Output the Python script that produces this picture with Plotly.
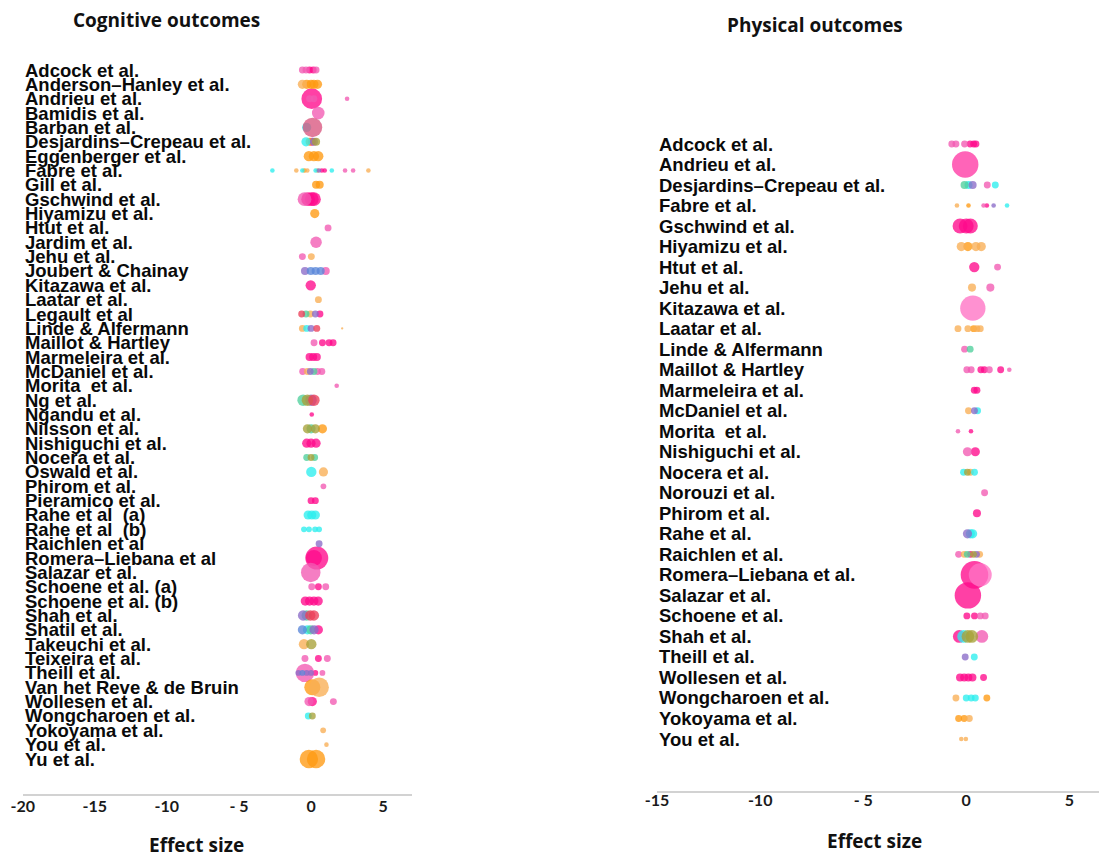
import plotly.graph_objects as go

# ---------------- data ----------------
cog_studies = [
    "Adcock et al.", "Anderson\u2013Hanley et al.", "Andrieu et al.", "Bamidis et al.", "Barban et al.",
    "Desjardins\u2013Crepeau et al.", "Eggenberger et al.", "Fabre et al.", "Gill et al.", "Gschwind et al.",
    "Hiyamizu et al.", "Htut et al.", "Jardim et al.", "Jehu et al.", "Joubert & Chainay",
    "Kitazawa et al.", "Laatar et al.", "Legault et al", "Linde & Alfermann", "Maillot & Hartley",
    "Marmeleira et al.", "McDaniel et al.", "Morita  et al.", "Ng et al.", "Ngandu et al.",
    "Nilsson et al.", "Nishiguchi et al.", "Nocera et al.", "Oswald et al.", "Phirom et al.",
    "Pieramico et al.", "Rahe et al  (a)", "Rahe et al  (b)", "Raichlen et al", "Romera\u2013Liebana et al",
    "Salazar et al.", "Schoene et al. (a)", "Schoene et al. (b)", "Shah et al.", "Shatil et al.",
    "Takeuchi et al.", "Teixeira et al.", "Theill et al.", "Van het Reve & de Bruin", "Wollesen et al.",
    "Wongcharoen et al.", "Yokoyama et al.", "You et al.", "Yu et al.",
]

cog_es = [
    [-0.6, -0.35, -0.1, 0.15, 0.35],
    [-0.6, -0.3, 0.0, 0.2, 0.45],
    [0.05, -0.1, 0.2, 2.5],
    [0.5],
    [-0.3, 0.1],
    [-0.35, -0.1, 0.05, 0.2, 0.35],
    [-0.15, 0.2, 0.5],
    [-2.68, -1.02, -0.6, -0.45, -0.26, 0.32, 0.45, 0.55, 0.75, 0.95, 1.44, 2.36, 2.92, 3.98],
    [0.35, 0.6],
    [-0.45, -0.2, 0.05, 0.2],
    [0.26],
    [1.18],
    [0.35],
    [-0.6, 0.02],
    [-0.42, -0.02, 0.32, 0.67, 1.02],
    [-0.02],
    [0.51],
    [-0.65, -0.35, -0.05, 0.3, 0.62],
    [-0.6, -0.3, 0.0, 0.4, 2.16],
    [0.21, 0.79, 1.25, 1.53],
    [-0.1, 0.15, 0.4],
    [-0.58, -0.25, -0.05, 0.2, 0.45, 0.75],
    [1.78],
    [-0.55, -0.25, 0.0, 0.2],
    [0.05],
    [-0.25, 0.0, 0.3, 0.79],
    [-0.3, 0.0, 0.35],
    [-0.3, 0.0, 0.25],
    [0.02, 0.86],
    [0.86],
    [0.0, 0.3],
    [-0.2, 0.05, 0.3],
    [-0.49, -0.14, 0.28, 0.56],
    [0.56],
    [0.2, 0.4],
    [-0.02],
    [0.05, 0.51, 1.02],
    [-0.4, -0.1, 0.2, 0.5],
    [-0.55, -0.3, -0.05, 0.2],
    [-0.6, -0.25, -0.02, 0.21, 0.51],
    [-0.49, 0.02],
    [-0.42, 0.51, 1.13],
    [-0.42, -0.88, -0.6, -0.3, 0.0, 0.3, 0.79],
    [0.09, 0.56],
    [-0.14, 0.09, 1.55],
    [-0.19, 0.09],
    [0.84],
    [1.07],
    [-0.15, 0.35],
]

cog_weight = [
    [6, 6, 6, 6, 6],
    [8, 8, 8, 8, 8],
    [18, 6, 6, 4],
    [11],
    [8, 17],
    [8, 7, 7, 7, 7],
    [9, 9, 9],
    [4, 4, 4, 4, 4, 4, 4, 4, 4, 4, 4, 4, 4, 4],
    [7, 7],
    [12, 12, 12, 12],
    [8],
    [6],
    [10],
    [6, 6],
    [7, 7, 7, 7, 7],
    [9],
    [6],
    [6, 6, 6, 6, 6],
    [6, 6, 6, 6, 2],
    [6, 6, 6, 6],
    [7, 7, 7],
    [6, 6, 6, 6, 6, 6],
    [4],
    [10, 10, 10, 10],
    [4],
    [8, 8, 8, 8],
    [8, 8, 8],
    [6, 6, 6],
    [9, 8],
    [5],
    [6, 6],
    [8, 8, 8],
    [5, 5, 5, 5],
    [6],
    [14, 20],
    [17],
    [6, 6, 6],
    [8, 8, 8, 8],
    [9, 9, 9, 9],
    [8, 8, 8, 8, 8],
    [9, 9],
    [6, 6, 6],
    [16, 5, 5, 5, 5, 5, 5],
    [14, 17],
    [8, 8, 6],
    [6, 6],
    [5],
    [4],
    [16, 16],
]

cog_group = [
    ["pink", "pink", "mag", "mag", "pink"],
    ["orgl", "org", "org", "org", "org"],
    ["mag", "pink", "pink", "pink"],
    ["pink"],
    ["cyan", "rose"],
    ["cyan", "org", "mag", "purp", "olive"],
    ["org", "org", "org"],
    ["cyan", "orgl", "cyan", "org", "orgl", "cyan", "orgl", "purp", "mag", "mag", "cyan", "pink", "pink", "orgl"],
    ["org", "org"],
    ["pink", "mag", "mag", "mag"],
    ["org"],
    ["pink"],
    ["pink"],
    ["pink", "orgl"],
    ["purp", "blue", "blue", "blue", "pink"],
    ["mag"],
    ["orgl"],
    ["red", "teal", "orgl", "purp", "mag"],
    ["orgl", "cyan", "purp", "red", "orgl"],
    ["pink", "mag", "mag", "mag"],
    ["mag", "mag", "mag"],
    ["pink", "orgl", "purp", "teal", "pink", "pink"],
    ["pink"],
    ["teal", "olive", "purp", "red"],
    ["mag"],
    ["olive", "teal", "olive", "org"],
    ["mag", "mag", "mag"],
    ["teal", "olive", "teal"],
    ["cyan", "orgl"],
    ["pink"],
    ["mag", "mag"],
    ["cyan", "cyan", "cyan"],
    ["cyan", "cyan", "cyan", "cyan"],
    ["purp"],
    ["mag", "mag"],
    ["pink"],
    ["pink", "mag", "pink"],
    ["mag", "mag", "mag", "mag"],
    ["purp", "teal", "red", "red"],
    ["blue", "cyan", "teal", "purp", "mag"],
    ["orgl", "olive"],
    ["pink", "mag", "pink"],
    ["pink", "purp", "blue", "purp", "purp", "mag", "pink"],
    ["org", "orgl"],
    ["pink", "mag", "pink"],
    ["cyan", "olive"],
    ["orgl"],
    ["orgl"],
    ["org", "org"],
]

phys_studies = [
    "Adcock et al.", "Andrieu et al.", "Desjardins\u2013Crepeau et al.", "Fabre et al.", "Gschwind et al.",
    "Hiyamizu et al.", "Htut et al.", "Jehu et al.", "Kitazawa et al.", "Laatar et al.",
    "Linde & Alfermann", "Maillot & Hartley", "Marmeleira et al.", "McDaniel et al.", "Morita  et al.",
    "Nishiguchi et al.", "Nocera et al.", "Norouzi et al.", "Phirom et al.", "Rahe et al.",
    "Raichlen et al.", "Romera\u2013Liebana et al.", "Salazar et al.", "Schoene et al.", "Shah et al.",
    "Theill et al.", "Wollesen et al.", "Wongcharoen et al.", "Yokoyama et al.", "You et al.",
]

phys_es = [
    [-0.7, -0.5, -0.08, 0.19, 0.36, 0.47],
    [-0.05],
    [-0.08, 0.11, 0.31, 1.02, 1.41],
    [-0.45, 0.11, 0.84, 1.0, 1.33, 1.98],
    [-0.3, 0.0, 0.2],
    [-0.24, 0.08, 0.47, 0.73],
    [0.39, 1.52],
    [0.28, 1.17],
    [0.32],
    [-0.4, 0.08, 0.36, 0.52, 0.68],
    [-0.08, 0.19],
    [0.03, 0.24, 0.71, 0.88, 1.12, 1.67, 2.09],
    [0.39, 0.52],
    [0.11, 0.4, 0.55],
    [-0.4, 0.23],
    [0.06, 0.44],
    [-0.13, 0.06, 0.2, 0.4],
    [0.89],
    [0.52],
    [0.06, 0.2, 0.31],
    [-0.37, -0.1, 0.05, 0.2, 0.35, 0.5, 0.65],
    [0.68, 0.4],
    [0.08],
    [0.03, 0.4, 0.68, 0.92],
    [-0.34, -0.13, 0.08, 0.27, 0.76],
    [-0.05, 0.39],
    [-0.3, -0.1, 0.1, 0.3, 0.84],
    [-0.5, 0.0, 0.24, 0.44, 1.0],
    [-0.37, -0.1, 0.15],
    [-0.24, -0.02],
]

phys_weight = [
    [6, 6, 6, 6, 6, 6],
    [23],
    [7, 7, 7, 6, 6],
    [4, 4, 4, 4, 4, 4],
    [13, 13, 13],
    [8, 8, 8, 8],
    [9, 6],
    [7, 7],
    [22],
    [6, 6, 6, 6, 6],
    [6, 6],
    [6, 6, 6, 6, 6, 6, 4],
    [6, 6],
    [6, 6, 6],
    [4, 4],
    [8, 8],
    [6, 6, 6, 6],
    [6],
    [7],
    [8, 8, 8],
    [6, 6, 6, 6, 6, 6, 6],
    [20, 24],
    [23],
    [6, 6, 6, 6],
    [11, 11, 11, 11, 11],
    [6, 6],
    [7, 7, 7, 7, 6],
    [6, 6, 6, 6, 6],
    [6, 6, 6],
    [4, 4],
]

phys_group = [
    ["pink", "pink", "pink", "mag", "mag", "mag"],
    ["hot"],
    ["teal", "cyan", "purp", "pink", "cyan"],
    ["orgl", "org", "pink", "mag", "purp", "cyan"],
    ["mag", "mag", "mag"],
    ["orgl", "org", "orgl", "orgl"],
    ["mag", "pink"],
    ["orgl", "pink"],
    ["pinkl"],
    ["orgl", "orgl", "org", "orgl", "orgl"],
    ["pink", "teal"],
    ["pink", "pink", "mag", "mag", "pink", "mag", "pink"],
    ["mag", "mag"],
    ["orgl", "purp", "cyan"],
    ["pink", "mag"],
    ["pink", "mag"],
    ["cyan", "olive", "orgl", "cyan"],
    ["pink"],
    ["mag"],
    ["purp", "cyan", "cyan"],
    ["pink", "orgl", "teal", "mag", "olive", "purp", "orgl"],
    ["pinkl", "mag"],
    ["mag"],
    ["mag", "mag", "pink", "pink"],
    ["mag", "cyan", "olive", "olive", "pink"],
    ["purp", "cyan"],
    ["mag", "mag", "mag", "mag", "mag"],
    ["orgl", "cyan", "cyan", "cyan", "org"],
    ["org", "org", "orgl"],
    ["orgl", "orgl"],
]

x_ticks_cog = [-20, -15, -10, -5, 0, 5]
x_tick_text_cog = ["-20", "-15", "-10", "- 5", "0", "5"]
x_ticks_phys = [-15, -10, -5, 0, 5]
x_tick_text_phys = ["-15", "-10", "- 5", "0", "5"]

# ---------------- styling ----------------
COLORS = {
    "mag": "#ff0a8c", "pink": "#f25ab2", "hot": "#ff38a4", "pinkl": "#ff72c4",
    "org": "#ff9a12", "orgl": "#f8ae55", "cyan": "#2deeee", "teal": "#4fcf9c",
    "purp": "#8a6cc8", "blue": "#5a86d8", "olive": "#a8a23a", "red": "#ec3f58",
    "rose": "#d9567f",
}
SIZE_SCALE = 1.15
W, H = 1102, 857


def px(x):
    """horizontal page pixel -> paper fraction (compensates the observed render offset)"""
    return (x - 13.3) / 0.9885 / W


LABEL_FONT = dict(family="Liberation Sans, Arial, sans-serif", size=18.5, color="#0a0a0a", weight="bold")
HEAD_FONT = dict(family="Open Sans, sans-serif", size=19, color="#111111", weight="bold")
TICK_FONT = dict(family="Lato, sans-serif", size=16, color="#1a1a1a", weight="bold")

fig = go.Figure()


def add_panel(es, weight, group, xa, ya):
    for g, col in COLORS.items():
        xs, ys, ss = [], [], []
        for row, (e_list, w_list, g_list) in enumerate(zip(es, weight, group)):
            for e, w, gg in zip(e_list, w_list, g_list):
                if gg == g:
                    xs.append(e)
                    ys.append(row)
                    ss.append(w)
        if xs:
            fig.add_trace(go.Scatter(
                x=xs, y=ys, mode="markers", xaxis=xa, yaxis=ya,
                marker=dict(size=ss, sizemode="diameter", sizeref=1 / SIZE_SCALE,
                            color=col, opacity=0.78, line=dict(width=0)),
                showlegend=False, hoverinfo="x",
            ))


add_panel(cog_es, cog_weight, cog_group, "x", "y")
add_panel(phys_es, phys_weight, phys_group, "x2", "y2")

annotations = []
for i, name in enumerate(cog_studies):
    annotations.append(dict(text=name, x=-20, y=i, xref="x", yref="y", xanchor="left",
                            yanchor="middle", showarrow=False, font=LABEL_FONT))
for i, name in enumerate(phys_studies):
    annotations.append(dict(text=name, x=-15, y=i, xref="x2", yref="y2", xanchor="left",
                            yanchor="middle", showarrow=False, font=LABEL_FONT))

annotations += [
    dict(text="Cognitive outcomes", x=px(168), y=1 - 20 / H, xref="paper", yref="paper",
         showarrow=False, font=HEAD_FONT, xanchor="center", yanchor="middle"),
    dict(text="Physical outcomes", x=px(816), y=1 - 25 / H, xref="paper", yref="paper",
         showarrow=False, font=HEAD_FONT, xanchor="center", yanchor="middle"),
    dict(text="Effect size", x=px(198), y=1 - 845 / H, xref="paper", yref="paper",
         showarrow=False, font=HEAD_FONT, xanchor="center", yanchor="middle"),
    dict(text="Effect size", x=px(875), y=1 - 841 / H, xref="paper", yref="paper",
         showarrow=False, font=HEAD_FONT, xanchor="center", yanchor="middle"),
]

n_cog = len(cog_studies)
n_phys = len(phys_studies)

axis_common = dict(showgrid=False, zeroline=False, showline=True, linecolor="#d2d2d2",
                   linewidth=2, ticks="", tickfont=TICK_FONT)
y_common = dict(showgrid=False, zeroline=False, showline=False, showticklabels=False, ticks="")

fig.update_layout(
    width=W, height=H,
    margin=dict(l=0, r=0, t=0, b=0),
    paper_bgcolor="white", plot_bgcolor="white",
    xaxis=dict(domain=[px(24), px(413)], range=[-20, 7], tickvals=x_ticks_cog,
               ticktext=x_tick_text_cog, anchor="y", ticklabelstandoff=-3, **axis_common),
    yaxis=dict(domain=[1 - 794 / H, 1 - 30 / H], range=[n_cog - 1 + 2.438, -2.787],
               anchor="x", **y_common),
    xaxis2=dict(domain=[px(658), min(px(1100), 1.0)], range=[-15, 6.46], tickvals=x_ticks_phys,
                ticktext=x_tick_text_phys, anchor="y2", ticklabelstandoff=-6, **axis_common),
    yaxis2=dict(domain=[1 - 791 / H, 1 - 60 / H], range=[n_phys - 1 + 2.534, -4.094],
                anchor="x2", **y_common),
    annotations=annotations,
)

fig.write_html(
    "out.html",
    config={"displayModeBar": False},
    post_script="document.body.style.margin='0';document.body.style.padding='0';"
                "document.body.style.overflow='hidden';",
)
